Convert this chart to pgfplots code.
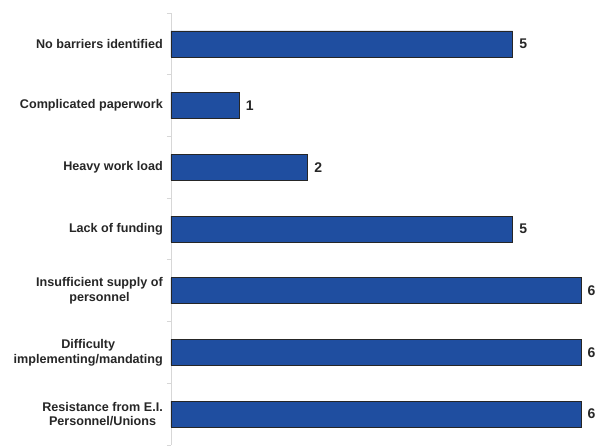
\documentclass[border=0pt]{standalone}
\usepackage{pgfplots}
\pgfplotsset{compat=1.18}
\usepackage{fontspec}
\setmainfont{Liberation Sans}
\definecolor{barblue}{RGB}{31,78,160}
\definecolor{axgray}{RGB}{215,215,215}
\begin{document}
\begin{tikzpicture}[x=1pt,y=1pt]
\begin{axis}[
  at={(0,0)}, anchor=south west,
  scale only axis, width=410pt, height=432pt,
  xbar, bar width=0.42,
  xmin=0, xmax=6,
  ymin=-0.5, ymax=6.5, y dir=reverse,
  hide x axis,
  axis y line*=left,
  y axis line style={axgray, line width=0.8pt},
  ytick={0,...,6},
  yticklabels={{No barriers identified},{Complicated paperwork},{Heavy work load},{Lack of funding},{Insufficient supply of\\personnel},{Difficulty\\implementing/mandating},{Resistance from E.I.\\Personnel/Unions}},
  major tick length=0pt,
  minor ytick={-0.5,0.5,...,6.5},
  minor tick length=4pt,
  tick align=outside,
  minor tick style={axgray, line width=0.8pt},
  yticklabel style={align=center, font=\fontsize{12.6}{14.8}\selectfont\bfseries, text=black!85, inner sep=0pt, xshift=-8pt},
  /pgf/number format/assume math mode=true,
  nodes near coords,
  nodes near coords style={font=\fontsize{14}{16}\selectfont\bfseries, text=black!85, anchor=west, xshift=3pt},
  clip=false,
]
\addplot[fill=barblue, draw=black!85, line width=0.6pt] coordinates {
(5,0) (1,1) (2,2) (5,3) (6,4) (6,5) (6,6)
};
\end{axis}
\pgfresetboundingbox
\path (-171pt,0pt) rectangle (431pt,445pt);
\end{tikzpicture}
\end{document}
